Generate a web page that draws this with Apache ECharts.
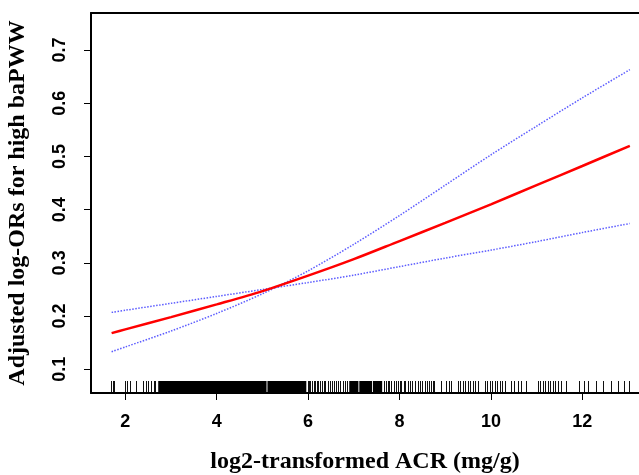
<!DOCTYPE html>
<html>
<body style="margin:0">

<!-- chart container, size of the reference picture -->
<div id="acrChart" style="width:639px; height:475px;"></div>

<script src="https://cdn.jsdelivr.net/npm/echarts@6/dist/echarts.min.js"></script>

<script>
  // axis range and ticks
  var xMin = 1.249, xMax = 13.24;
  var yMin = 0.0555, yMax = 0.7695;
  var xTicks = [2, 4, 6, 8, 10, 12];
  var yTicks = [0.1, 0.2, 0.3, 0.4, 0.5, 0.6, 0.7];

  // fitted curve and its two dotted confidence limits
  var xs       = [1.70, 2, 3, 4, 5, 6, 7, 8, 9, 10, 11, 12, 13.04];
  var fitLine  = [0.168, 0.175, 0.198, 0.222, 0.247, 0.276, 0.307, 0.341, 0.375, 0.410, 0.446, 0.482, 0.520];
  var limitA   = [0.207, 0.211, 0.224, 0.237, 0.250, 0.263, 0.277, 0.293, 0.309, 0.324, 0.340, 0.357, 0.374];
  var limitB   = [0.133, 0.142, 0.172, 0.205, 0.242, 0.285, 0.335, 0.389, 0.446, 0.503, 0.557, 0.610, 0.663];

  // rug of observations: single ticks, and the ranges where they merge into solid black
  var rugTicks = [1.68, 1.72, 1.76, 1.99, 2.03, 2.10, 2.24, 2.39, 2.45, 2.50, 2.57, 2.62, 2.66,
    6.00, 6.03, 6.05, 6.09, 6.12, 6.16, 6.19, 6.22, 6.25, 6.31, 6.34, 6.38, 6.43, 6.47, 6.52, 6.56,
    6.61, 6.65, 6.70, 6.76, 6.81, 6.86,
    7.66, 7.71, 7.74, 7.77, 7.82, 7.87, 7.93, 7.97, 8.00,
    8.04, 8.09, 8.13, 8.18, 8.23, 8.28, 8.33, 8.40, 8.45, 8.50, 8.55, 8.60, 8.64, 8.69, 8.73, 8.76,
    8.91, 9.02, 9.09, 9.13, 9.27, 9.33, 9.38, 9.44, 9.49, 9.55, 9.60, 9.66, 9.71,
    9.86, 9.91, 9.97, 10.02, 10.08, 10.13, 10.19, 10.24, 10.30,
    10.44, 10.51, 10.59, 10.66, 10.77,
    11.02, 11.08, 11.13, 11.18, 11.24, 11.29, 11.35, 11.40, 11.46, 11.53, 11.64,
    11.93, 12.04, 12.12, 12.30, 12.46, 12.63, 12.77, 12.92, 13.03];
  var rugBlocks = [[2.72, 5.09], [5.11, 5.96], [6.90, 7.10], [7.12, 7.40], [7.42, 7.62]];

  function pairs(ys) {
    return xs.map(function (x, i) { return [x, ys[i]]; });
  }

  var tickFont = { fontFamily: 'Liberation Sans', fontWeight: 'bold', fontSize: 18, color: '#000' };
  var titleFont = { fontFamily: 'Liberation Serif', fontWeight: 'bold', fontSize: 24, color: '#000' };

  var option = {
    animation: false,
    backgroundColor: '#fff',
    grid: { left: 91, top: 13, right: 0, bottom: 82, containLabel: false, outerBoundsMode: 'none' },
    xAxis: [{
      type: 'value',
      min: xMin,
      max: xMax,
      name: 'log2-transformed ACR (mg/g)',
      nameLocation: 'middle',
      nameGap: 48,
      nameTextStyle: titleFont,
      splitLine: { show: false },
      axisLine: { lineStyle: { color: '#000', width: 2 } },
      axisTick: { length: 7, lineStyle: { color: '#000', width: 1 }, customValues: xTicks },
      axisLabel: Object.assign({ margin: 14, customValues: xTicks }, tickFont)
    }, {
      type: 'value',
      position: 'top',
      min: xMin,
      max: xMax,
      splitLine: { show: false },
      axisLine: { lineStyle: { color: '#000', width: 2 } },
      axisTick: { show: false },
      axisLabel: { show: false }
    }],
    yAxis: {
      type: 'value',
      min: yMin,
      max: yMax,
      name: 'Adjusted log-ORs for high baPWW',
      nameLocation: 'middle',
      nameGap: 47,
      nameTextStyle: titleFont,
      splitLine: { show: false },
      axisLine: { show: true, lineStyle: { color: '#000', width: 2 } },
      axisTick: { show: true, length: 7, lineStyle: { color: '#000', width: 1 }, customValues: yTicks },
      axisLabel: Object.assign({ margin: 15, rotate: 90, customValues: yTicks,
        formatter: function (v) { return v.toFixed(1); } }, tickFont)
    },
    series: [{
      type: 'line',
      data: pairs(limitA),
      smooth: 0.3,
      showSymbol: false,
      lineStyle: { color: '#4040ff', width: 1.5, type: 'dotted', opacity: 0.85 }
    }, {
      type: 'line',
      data: pairs(limitB),
      smooth: 0.3,
      showSymbol: false,
      lineStyle: { color: '#4040ff', width: 1.5, type: 'dotted', opacity: 0.85 }
    }, {
      type: 'line',
      data: pairs(fitLine),
      smooth: 0.3,
      showSymbol: false,
      lineStyle: { color: '#ff0000', width: 2.5 }
    }, {
      type: 'custom',
      silent: true,
      data: rugTicks.map(function (x) { return [x, yMin]; }),
      renderItem: function (params, api) {
        var p = api.coord([api.value(0), yMin]);
        var px = Math.round(p[0]) + 0.5;
        return {
          type: 'line',
          shape: { x1: px, y1: p[1] - 1, x2: px, y2: p[1] - 12 },
          style: { stroke: '#111', lineWidth: 1 }
        };
      }
    }, {
      type: 'custom',
      silent: true,
      data: rugBlocks,
      renderItem: function (params, api) {
        var a = api.coord([api.value(0), yMin]);
        var b = api.coord([api.value(1), yMin]);
        return {
          type: 'rect',
          shape: { x: a[0], y: a[1] - 12, width: b[0] - a[0], height: 11 },
          style: { fill: '#000' }
        };
      }
    }]
  };

  var chart = echarts.init(document.getElementById('acrChart'));
  chart.setOption(option);
</script>
</body>
</html>
